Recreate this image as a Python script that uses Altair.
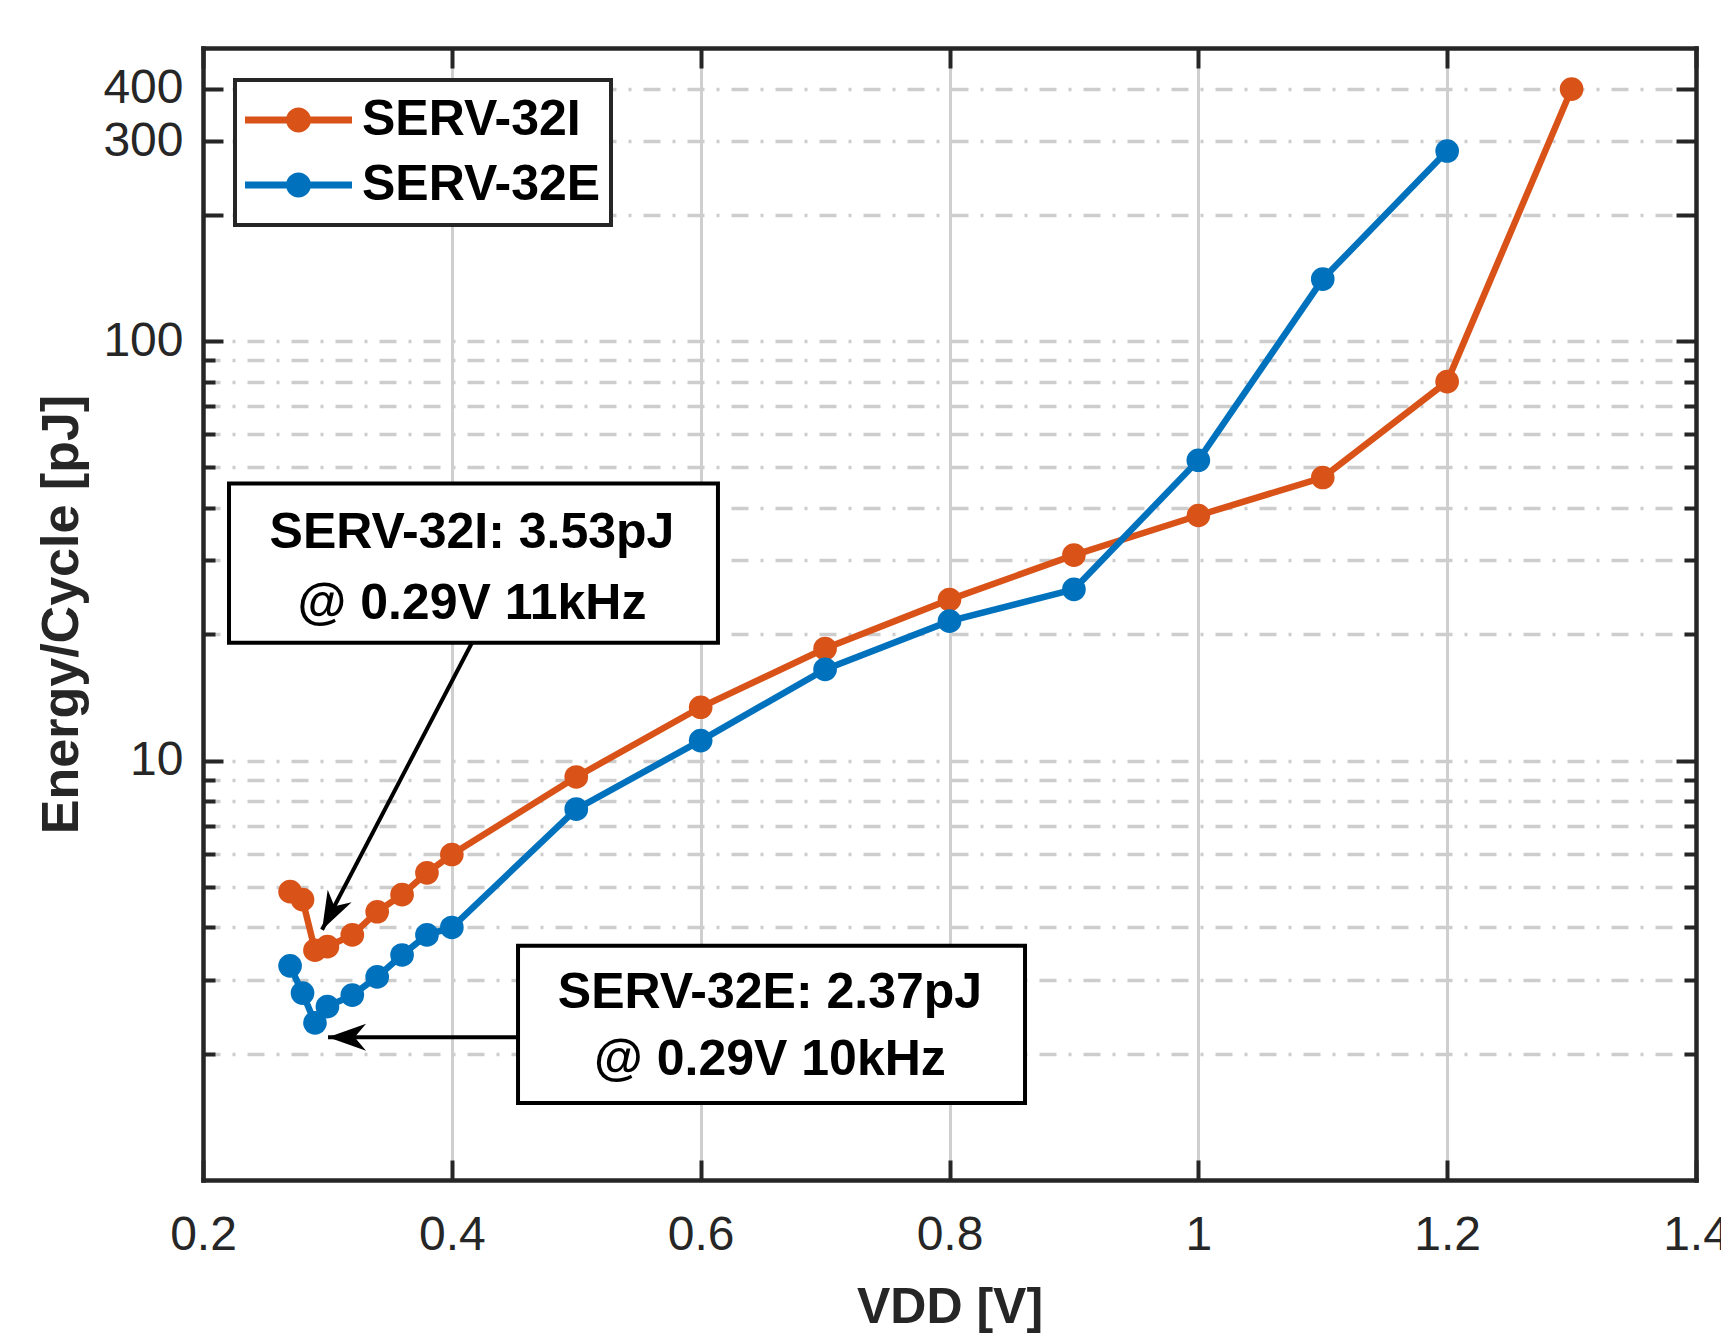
import math
import altair as alt
import pandas as pd

# ---------------- data ----------------
series_names = ["SERV-32I", "SERV-32E"]
series_colors = ["#D95319", "#0072BD"]

vdd_i = [0.27, 0.28, 0.29, 0.30, 0.32, 0.34, 0.36, 0.38, 0.40, 0.5, 0.6, 0.7, 0.8, 0.9, 1.0, 1.1, 1.2, 1.3]
energy_i = [4.87, 4.66, 3.53, 3.60, 3.84, 4.36, 4.79, 5.40, 5.97, 9.14, 13.4, 18.5, 24.2, 30.9, 38.4, 47.3, 80.1, 399]

vdd_e = [0.27, 0.28, 0.29, 0.30, 0.32, 0.34, 0.36, 0.38, 0.40, 0.5, 0.6, 0.7, 0.8, 0.9, 1.0, 1.1, 1.2]
energy_e = [3.24, 2.79, 2.37, 2.59, 2.76, 3.05, 3.44, 3.84, 4.0, 7.66, 11.16, 16.5, 21.5, 25.6, 52.0, 140.6, 284]

x_ticks = [0.2, 0.4, 0.6, 0.8, 1.0, 1.2, 1.4]
y_minor = [2, 3, 4, 5, 6, 7, 8, 9, 20, 30, 40, 50, 60, 70, 80, 90]
y_major = [10, 100, 200, 300, 400]
y_labelled = [10, 100, 300, 400]

# annotation boxes (data coordinates)
box_x1 = [0.2209, 0.4532]
box_x2 = [0.6139, 0.8607]
box_y1 = [19.1, 1.527]
box_y2 = [45.8, 3.62]

ann_text = ["SERV-32I: 3.53pJ", "@ 0.29V 11kHz", "SERV-32E: 2.37pJ", "@ 0.29V 10kHz"]
ann_x = [0.4162, 0.4162, 0.6557, 0.6557]
ann_y = [32.2, 21.7, 2.573, 1.781]

arrow_sx = [0.4162, 0.4532]
arrow_sy = [19.1, 2.19]
arrow_tx = [0.2957, 0.3005]
arrow_ty = [3.95, 2.19]

# ---------------- layout ----------------
W, H = 1493, 1132
X_DOM = [0.2, 1.4]
Y_DOM = [1, 500]
FONT = "Liberation Sans"
AX = "#262626"

xs = alt.Scale(domain=X_DOM, nice=False, zero=False)
ys = alt.Scale(type="log", domain=Y_DOM, nice=False)


def px(v):
    return (v - X_DOM[0]) / (X_DOM[1] - X_DOM[0]) * W


def py(v):
    return H * (1 - math.log10(v) / math.log10(Y_DOM[1]))


arrow_angle = []
for sx, sy, tx, ty in zip(arrow_sx, arrow_sy, arrow_tx, arrow_ty):
    dx = px(sx) - px(tx)
    dy = py(sy) - py(ty)
    arrow_angle.append(math.degrees(math.atan2(-dx, dy)) % 360)

df = pd.DataFrame(
    {
        "vdd": vdd_i + vdd_e,
        "energy": energy_i + energy_e,
        "series": [series_names[0]] * len(vdd_i) + [series_names[1]] * len(vdd_e),
    }
)
box_df = pd.DataFrame({"x1": box_x1, "x2": box_x2, "y1": box_y1, "y2": box_y2})
ann_df = pd.DataFrame({"x": ann_x, "y": ann_y, "t": ann_text})
arr_df = pd.DataFrame(
    {"sx": arrow_sx, "sy": arrow_sy, "tx": arrow_tx, "ty": arrow_ty, "angle": arrow_angle}
)

major_test = "indexof([" + ",".join(str(v) for v in y_major) + "], datum.value) >= 0"
label_test = "indexof([" + ",".join(str(v) for v in y_labelled) + "], datum.value) >= 0"

# axis carrying labels, titles and grid
x_label_axis = alt.Axis(
    orient="bottom", values=x_ticks, ticks=False, tickSize=0, domain=False,
    grid=True, gridColor="#cfcfcf", gridWidth=3,
    labelFont=FONT, labelFontSize=48, labelColor=AX, labelPadding=31,
    labelFlush=False, labelOverlap=False, format="~g",
    title="VDD [V]", titleFont=FONT, titleFontSize=50, titleFontWeight="bold",
    titleColor=AX, titleBaseline="alphabetic", titleX=W / 2, titleY=142,
    zindex=0,
)
y_label_axis = alt.Axis(
    orient="left", values=y_minor + y_major, ticks=False, tickSize=0, domain=False,
    grid=True, gridColor="#cdcdcd", gridWidth=3.5, gridDash=[17, 12, 3, 12],
    labelExpr=label_test + " ? format(datum.value, 'd') : ''",
    labelFont=FONT, labelFontSize=48, labelColor=AX, labelPadding=20,
    labelOverlap=False, labelFlush=False,
    title="Energy/Cycle [pJ]", titleFont=FONT, titleFontSize=52, titleFontWeight="bold",
    titleColor=AX, titleBaseline="alphabetic", titleAngle=270, titleAlign="center",
    titleX=-126, titleY=H / 2,
    zindex=0,
)


def y_tick_axis(orient):
    return alt.Axis(
        orient=orient, offset=-W, values=y_minor + y_major, labels=False, grid=False,
        domain=True, domainColor=AX, domainWidth=4.5, domainCap="square",
        ticks=True, tickColor=AX, tickWidth=4,
        tickSize={"condition": {"test": major_test, "value": 20}, "value": 12},
        title=None, zindex=2,
    )


def x_tick_axis(orient):
    return alt.Axis(
        orient=orient, offset=-H, values=x_ticks, labels=False, grid=False,
        domain=True, domainColor=AX, domainWidth=4.5, domainCap="square",
        ticks=True, tickColor=AX, tickWidth=4, tickSize=20,
        title=None, zindex=2,
    )


base = alt.Chart(df)

# line colours: same mapping, listed in reverse order so this scale's (hidden)
# legend is not merged with the visible legend of the markers
lines = base.mark_line(strokeWidth=6.5).encode(
    x=alt.X("vdd:Q", scale=xs, axis=x_label_axis),
    y=alt.Y("energy:Q", scale=ys, axis=y_label_axis),
    stroke=alt.Stroke(
        "series:N",
        scale=alt.Scale(domain=series_names[::-1], range=series_colors[::-1]),
        legend=None,
    ),
    order="vdd:Q",
)

# legend symbol: line segment with a dot in the middle (unit = sqrt(size)/2 px)
legend_symbol = (
    "M -4.28 -0.28 H 4.28 V 0.28 H -4.28 Z "
    "M 1 0 A 1 1 0 1 1 -1 0 A 1 1 0 1 1 1 0 Z"
)

points = base.mark_point(filled=True, size=560, opacity=1, strokeWidth=0).encode(
    x=alt.X("vdd:Q", scale=xs, axis=None),
    y=alt.Y("energy:Q", scale=ys, axis=None),
    fill=alt.Fill(
        "series:N",
        scale=alt.Scale(domain=series_names, range=series_colors),
        legend=alt.Legend(
            title=None, orient="none", legendX=32, legendY=32,
            symbolType=legend_symbol, symbolSize=625, symbolStrokeWidth=0,
            symbolOffset=28.5, labelOffset=38.5, rowPadding=5, padding=10,
            clipHeight=60,
            labelFont=FONT, labelFontSize=50, labelFontWeight="bold", labelColor="black",
            labelLimit=800, strokeColor=AX, fillColor="white", cornerRadius=0,
            symbolOpacity=1,
        ),
    ),
)

ticks_a = base.mark_point(opacity=0).encode(
    x=alt.X("vdd:Q", scale=xs, axis=x_tick_axis("top")),
    y=alt.Y("energy:Q", scale=ys, axis=y_tick_axis("right")),
)
ticks_b = base.mark_point(opacity=0).encode(
    x=alt.X("vdd:Q", scale=xs, axis=x_tick_axis("bottom")),
    y=alt.Y("energy:Q", scale=ys, axis=y_tick_axis("left")),
)

boxes = alt.Chart(box_df).mark_rect(fill="white", stroke="black", strokeWidth=4).encode(
    x=alt.X("x1:Q", scale=xs, axis=None),
    x2="x2:Q",
    y=alt.Y("y1:Q", scale=ys, axis=None),
    y2="y2:Q",
)

texts = alt.Chart(ann_df).mark_text(
    font=FONT, fontSize=50, fontWeight="bold", color="black", align="center", baseline="alphabetic"
).encode(
    x=alt.X("x:Q", scale=xs, axis=None),
    y=alt.Y("y:Q", scale=ys, axis=None),
    text="t:N",
)

shafts = alt.Chart(arr_df).mark_rule(strokeWidth=4, color="black").encode(
    x=alt.X("sx:Q", scale=xs, axis=None),
    y=alt.Y("sy:Q", scale=ys, axis=None),
    x2="tx:Q",
    y2="ty:Q",
)

arrow_head = "M 0 0 L 0.71 2 L 0 1.4 L -0.71 2 Z"
heads = alt.Chart(arr_df).mark_point(
    shape=arrow_head, size=1444, filled=True, fill="black", opacity=1, strokeWidth=0
).encode(
    x=alt.X("tx:Q", scale=xs, axis=None),
    y=alt.Y("ty:Q", scale=ys, axis=None),
    angle=alt.Angle("angle:Q", scale=None),
)

chart = (
    alt.layer(lines, points, boxes, texts, shafts, heads, ticks_a, ticks_b)
    .resolve_axis(x="independent", y="independent")
    .properties(
        width=W,
        height=H,
        autosize=alt.AutoSizeParams(type="none"),
        padding={"left": 195, "top": 40, "right": 25, "bottom": 155},
        background="white",
    )
    .configure(font=FONT)
    .configure_view(stroke="transparent")
    .configure_legend(strokeWidth=4)
)

chart.save("out.html", embed_options={"renderer": "svg", "actions": False})
